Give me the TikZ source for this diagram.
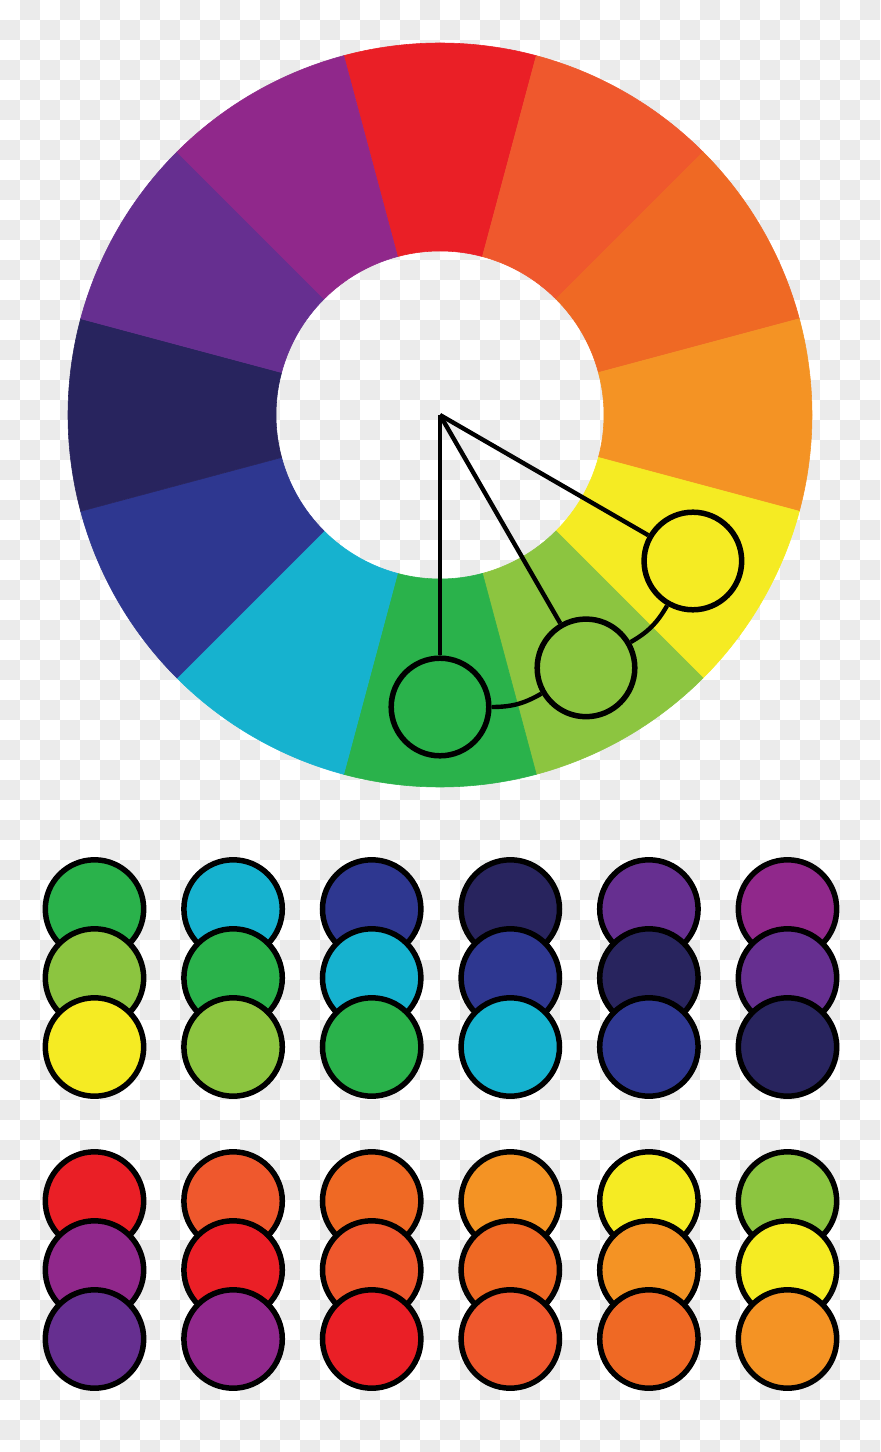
\documentclass[tikz,border=0pt]{standalone}
\usepackage{tikz}
\definecolor{wred}{HTML}{EA1F26}
\definecolor{wredorange}{HTML}{EF582D}
\definecolor{worange}{HTML}{EF6924}
\definecolor{wamber}{HTML}{F49324}
\definecolor{wyellow}{HTML}{F5EB23}
\definecolor{wlime}{HTML}{8CC540}
\definecolor{wgreen}{HTML}{2AB24B}
\definecolor{wcyan}{HTML}{16B2CF}
\definecolor{wblue}{HTML}{2E3790}
\definecolor{wnavy}{HTML}{28245E}
\definecolor{wviolet}{HTML}{662F90}
\definecolor{wpurple}{HTML}{90288B}
\definecolor{checker}{HTML}{EBEBEB}

\begin{document}
\begin{tikzpicture}[x=0.25mm, y=0.25mm,
    chip/.style={draw, circle, line width=1.375mm, minimum size=24.6mm, inner sep=0pt},
    pick/.style={draw, circle, line width=1.375mm, minimum size=24.4mm, inner sep=0pt},
    spoke/.style={line width=1.1mm}]
      \useasboundingbox (-440,415) rectangle (440,-1037);
      \clip (-440,415) rectangle (440,-1037);

      \foreach \j in {0,2,...,72}
        \foreach \i in {1,3,...,43}
          \fill[checker] (-440+20*\i,415-20*\j) rectangle ++(20,-20);
      \foreach \j in {1,3,...,71}
        \foreach \i in {0,2,...,42}
          \fill[checker] (-440+20*\i,415-20*\j) rectangle ++(20,-20);

      \foreach \a/\c in {75/wred, 45/wredorange, 15/worange, -15/wamber,
                         -45/wyellow, -75/wlime, -105/wgreen, -135/wcyan,
                         -165/wblue, 165/wnavy, 135/wviolet, 105/wpurple}
        \filldraw[fill=\c, draw=\c, line width=0.4pt]
          (\a:164) arc[start angle=\a, end angle=\a+30, radius=164]
          -- (\a+30:372) arc[start angle=\a+30, end angle=\a, radius=372] -- cycle;

      \coordinate (hub) at (0,0);
      \node[pick, fill=wgreen]  (pg) at (-90:292) {};
      \node[pick, fill=wlime]   (pl) at (-60:292) {};
      \node[pick, fill=wyellow] (py) at (-30:292) {};

      \draw[spoke] (hub) -- (pg);
      \draw[spoke] (hub) -- (pl);
      \draw[spoke] (hub) -- (py);
      \draw[spoke] (pg) to[bend right=15] (pl);
      \draw[spoke] (pl) to[bend right=15] (py);

      \foreach \k/\ca/\cb/\cc in {1/wgreen/wlime/wyellow, 2/wcyan/wgreen/wlime,
                                  3/wblue/wcyan/wgreen, 4/wnavy/wblue/wcyan,
                                  5/wviolet/wnavy/wblue, 6/wpurple/wviolet/wnavy} {
        \node[chip, fill=\ca] (a\k-1) at (-484.1+138.6*\k,-494) {};
        \node[chip, fill=\cb] (a\k-2) at (-484.1+138.6*\k,-563) {};
        \node[chip, fill=\cc] (a\k-3) at (-484.1+138.6*\k,-632) {};
      }

      \foreach \k/\ca/\cb/\cc in {1/wred/wpurple/wviolet, 2/wredorange/wred/wpurple,
                                  3/worange/wredorange/wred, 4/wamber/worange/wredorange,
                                  5/wyellow/wamber/worange, 6/wlime/wyellow/wamber} {
        \node[chip, fill=\ca] (b\k-1) at (-484.1+138.6*\k,-786) {};
        \node[chip, fill=\cb] (b\k-2) at (-484.1+138.6*\k,-855) {};
        \node[chip, fill=\cc] (b\k-3) at (-484.1+138.6*\k,-924) {};
      }
    \end{tikzpicture}
\end{document}
